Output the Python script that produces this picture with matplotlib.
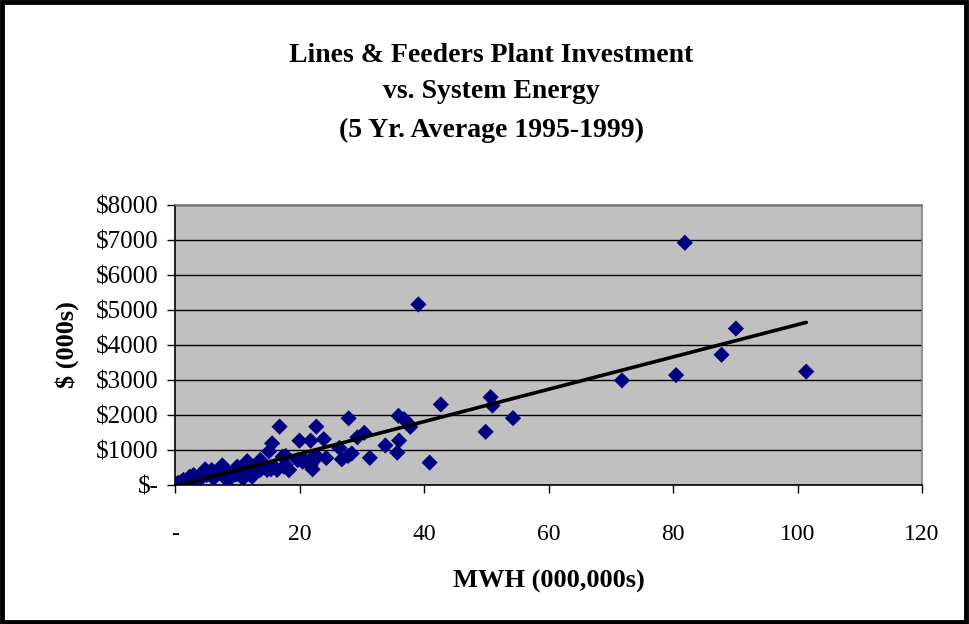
import matplotlib
matplotlib.use("Agg")
import matplotlib.pyplot as plt
import numpy as np
from matplotlib.patches import Rectangle

# Data: MWH (000,000s) vs Plant Investment $ (000s)
mwh = [81.9, 90.1, 87.8, 80.5, 71.8, 101.4,
       39.1, 42.7, 50.7, 51.0, 54.3, 49.9, 40.9,
       35.9, 36.8, 37.4, 37.8, 33.8, 36.0, 35.7,
       27.9, 22.7, 16.8, 20.0, 21.8, 23.9, 29.3, 30.4,
       31.3, 26.4, 28.4, 27.8, 26.8, 24.3, 22.9, 22.1, 21.8, 21.0, 19.7, 20.5, 17.8, 18.3, 17.3,
       15.6, 15.1, 17.8, 13.7, 11.6, 14.8, 13.7, 10.9, 10.0, 7.6, 9.4, 8.1, 5.9, 4.85, 4.3, 6.2,
       3.0, 2.15, 1.35, 0.27, 0.8, 2.4, 3.8, 5.1, 7.3, 8.9, 12.1, 12.7, 15.9, 16.4, 17.5, 18.3,
       15.4, 13.5, 12.4, 11.2, 6.2, 2.4, 3.8, 22.3,
       0.5, 1.0, 1.6, 1.9, 2.7, 3.3, 4.0, 4.6, 5.5, 6.6, 7.0, 8.4, 9.8, 10.5, 11.8, 13.0, 14.2]
invest = [6920, 4470, 3720, 3140, 2990, 3240,
          5160, 2300, 2510, 2270, 1910, 1520, 640,
          1975, 1880, 1770, 1660, 1130, 1270, 924,
          1905, 1667, 1667, 1267, 1267, 1310, 1362, 1490,
          775, 1060, 900, 829, 733, 770, 800, 448, 570, 680, 714, 667, 571, 430, 810,
          1190, 960, 830, 714, 680, 430, 430, 190, 524, 560, 381, 190, 428, 448, 300, 190,
          286, 190, 143, 30, 48, 48, 143, 286, 333, 190, 286, 524, 520, 430, 524, 430,
          448, 571, 238, 238, 238, 238, 238, 810,
          60, 90, 120, 70, 150, 180, 220, 260, 320, 300, 420, 350, 300, 420, 380, 450, 510]

x_ticks = [0, 20, 40, 60, 80, 100, 120]
x_tick_labels = ["-", "20", "40", "60", "80", "100", "120"]
y_ticks = [0, 1000, 2000, 3000, 4000, 5000, 6000, 7000, 8000]
y_tick_labels = ["$-", "$1000", "$2000", "$3000", "$4000", "$5000", "$6000", "$7000", "$8000"]

title_lines = ["Lines & Feeders Plant Investment", "vs. System Energy", "(5 Yr. Average 1995-1999)"]

plt.rcParams['font.family'] = ['Liberation Serif', 'DejaVu Serif']

W, H = 969, 624
fig = plt.figure(figsize=(W / 100, H / 100), dpi=100)
ax = fig.add_axes([175 / W, 1 - 485 / H, (922 - 175) / W, (485 - 205) / H])

ax.set_facecolor("#C0C0C0")
ax.set_xlim(0, 120)
ax.set_ylim(0, 8000)
ax.set_yticks(y_ticks)
ax.set_yticklabels(y_tick_labels)
ax.set_xticks(x_ticks)
ax.set_xticklabels(x_tick_labels)
ax.grid(axis='y', color='black', linewidth=1.0)
ax.set_axisbelow(True)
for s in ax.spines.values():
    s.set_color('#808080')
    s.set_linewidth(1.2)
ax.spines['left'].set_color('black')
ax.spines['bottom'].set_color('black')
ax.tick_params(axis='y', direction='out', length=6, width=1, labelsize=18, pad=6)
ax.tick_params(axis='x', direction='out', length=6, width=1, labelsize=17, pad=22)

x = np.array(mwh)
y = np.array(invest)
ax.scatter(x, y, marker='D', s=68, color='#000080', edgecolors='none', zorder=3)

coef = np.polyfit(x, y, 1)
xl = np.array([x.min(), x.max()])
ax.plot(xl, np.polyval(coef, xl), color='black', linewidth=2.6, zorder=4, solid_capstyle='round')

ax.set_xlabel("MWH (000,000s)", fontsize=19, fontweight='bold', labelpad=18)
ax.set_ylabel("$ (000s)", fontsize=19, fontweight='bold', labelpad=12)

fig.text(491 / W, 1 - 55 / H, title_lines[0], ha='center', va='center', fontsize=20, fontweight='bold')
fig.text(491 / W, 1 - 92 / H, title_lines[1], ha='center', va='center', fontsize=20, fontweight='bold')
fig.text(491 / W, 1 - 130 / H, title_lines[2], ha='center', va='center', fontsize=20, fontweight='bold')

fig.patches.append(Rectangle((0.002, 0.003), 0.995, 0.994, transform=fig.transFigure,
                             fill=False, edgecolor='black', linewidth=3.5))

fig.savefig("out.png", dpi=100)
